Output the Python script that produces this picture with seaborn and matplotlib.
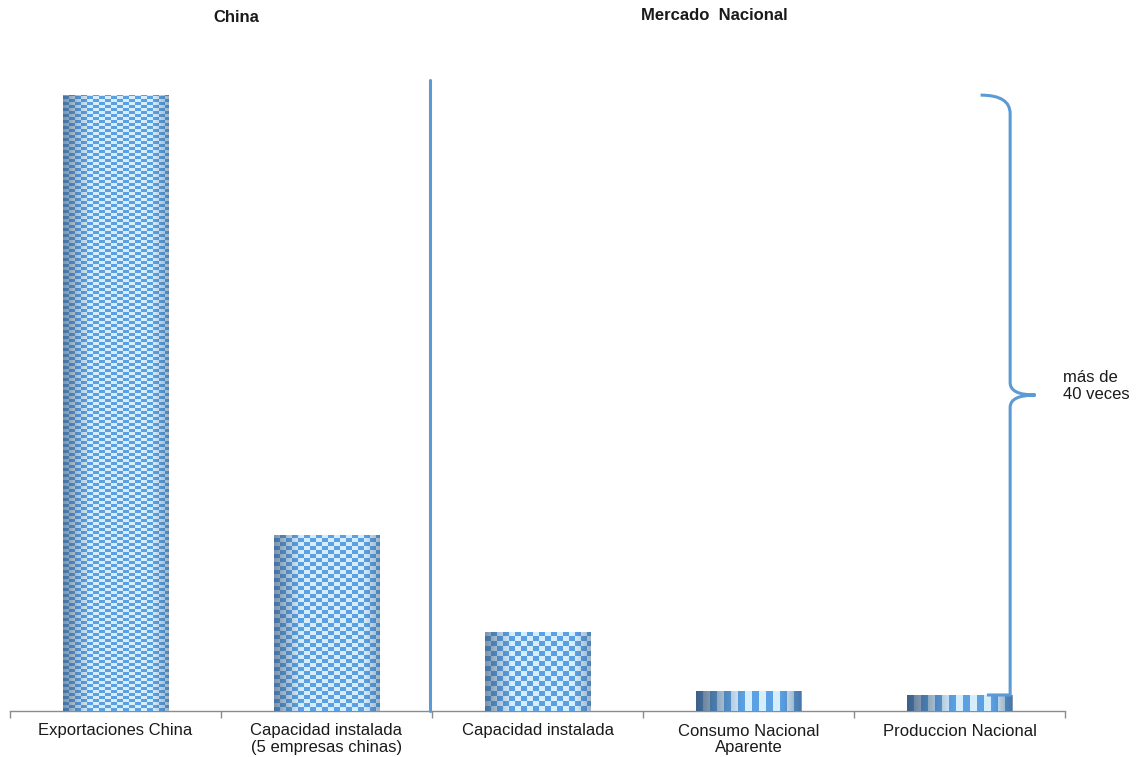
import matplotlib
matplotlib.use("Agg")
import matplotlib.pyplot as plt
from matplotlib.path import Path
from matplotlib.patches import PathPatch
import numpy as np
import pandas as pd
import seaborn as sns

# relative volumes (Exportaciones China = 100)
categories = ["Exportaciones China", "Capacidad instalada\n(5 empresas chinas)",
              "Capacidad instalada", "Consumo Nacional\nAparente", "Produccion Nacional"]
values = [100, 28.6, 12.8, 3.3, 2.6]
group_titles = ["China", "Mercado  Nacional"]
brace_text = "más de\n40 veces"

BLUE = "#5b9bd5"

sns.set_theme(style="white")
plt.rcParams["font.family"] = ["Liberation Sans", "DejaVu Sans"]

df = pd.DataFrame({"cat": categories, "val": values})

fig = plt.figure(figsize=(11.38, 7.57), dpi=100)
ax = fig.add_axes([10 / 1138, 1 - 711 / 757, 1055 / 1138, 651 / 757])
sns.barplot(data=df, x="cat", y="val", order=categories, width=0.5,
            color="#6fa8dc", saturation=1, ax=ax)
ax.set_xlim(-0.5, 4.5)
ax.set_ylim(0, 105.7)


def texture(w, h, striped):
    # mildly cylinder-shaded checker texture, built in pixel units
    x = np.arange(w)
    y = np.arange(h)
    ch = 3 if h > 300 else (4 if h > 120 else 5)
    if striped:
        chk = ((x[None, :] // 7) % 2).repeat(h, axis=0)
    else:
        chk = ((x[None, :] // 6) + (y[:, None] // ch)) % 2
    light = np.array([0.84, 0.93, 0.99])
    mid = np.array([0.36, 0.63, 0.89])
    img = np.where(chk[..., None] == 1, light, mid)
    t = x / max(w - 1, 1)
    # darker toward the edges, stronger on the left
    edge = np.where(t < 0.55, np.clip(1 - t / 0.25, 0, 1) * 0.55,
                    np.clip((t - 0.85) / 0.15, 0, 1) * 0.35)
    if striped:
        edge = np.where(t < 0.6, np.clip(1 - t / 0.45, 0, 1) * 0.75,
                        np.clip((t - 0.8) / 0.2, 0, 1) * 0.5)
    dark = np.array([0.20, 0.30, 0.42])
    s = edge[None, :, None]
    return np.clip(img * (1 - s) + dark * s, 0, 1)


for i, p in enumerate(ax.patches):
    x0, w, h = p.get_x(), p.get_width(), p.get_height()
    (px0, py0), (px1, py1) = ax.transData.transform([(x0, 0), (x0 + w, h)])
    wp, hp = int(round(px1 - px0)), max(int(round(py1 - py0)), 2)
    img = texture(wp, hp, striped=hp < 40)
    im = ax.imshow(img, extent=(x0, x0 + w, 0, h), aspect="auto",
                   origin="lower", interpolation="nearest", zorder=3)
    im.set_clip_path(p)

ax.set_xlim(-0.5, 4.5)
ax.set_ylim(0, 105.7)

# axis styling
sns.despine(ax=ax, left=True)
ax.spines["bottom"].set_color("#8c8c8c")
ax.spines["bottom"].set_linewidth(1)
ax.set_yticks([])
ax.set_xlabel("")
ax.set_ylabel("")
ax.set_xticks(range(len(categories)))
ax.set_xticklabels(categories, fontsize=12, color="#1a1a1a", linespacing=1.15)
ax.tick_params(axis="x", which="major", length=0, pad=9)
ax.set_xticks(np.arange(-0.5, 5, 1), minor=True)
ax.tick_params(axis="x", which="minor", length=5, color="#8c8c8c", bottom=True)

# divider between China and national market
ax.plot([1.49, 1.49], [0, 102.4], color=BLUE, lw=2.2, clip_on=False, zorder=4)

# curly brace
bx, lx, tx = 4.24, 4.10, 4.36
top, bot = 100.0, 2.6
mid = (top + bot) / 2
verts = [(lx, top), (bx, top), (bx, top - 3), (bx, top - 4),
         (bx, mid + 2), (bx, mid), (tx, mid),
         (bx, mid), (bx, mid - 2), (bx, bot + 4),
         (bx, bot + 1), (bx, bot), (lx + 0.03, bot)]
codes = [Path.MOVETO, Path.CURVE3, Path.CURVE3, Path.LINETO,
         Path.LINETO, Path.CURVE3, Path.CURVE3,
         Path.CURVE3, Path.CURVE3, Path.LINETO,
         Path.CURVE3, Path.CURVE3, Path.LINETO]
ax.add_patch(PathPatch(Path(verts, codes), fill=False, edgecolor=BLUE,
                       lw=2.2, clip_on=False, zorder=4))
ax.text(4.49, mid + 1.5, brace_text, fontsize=12, color="#1a1a1a",
        ha="left", va="center", clip_on=False, linespacing=1.15)

# group titles
fig.text(236 / 1138, 1 - 18 / 757, group_titles[0], fontsize=12,
         fontweight="bold", ha="center", va="center", color="#1a1a1a")
fig.text(714 / 1138, 1 - 15 / 757, group_titles[1], fontsize=12,
         fontweight="bold", ha="center", va="center", color="#1a1a1a")

fig.savefig("out.png", dpi=100)
